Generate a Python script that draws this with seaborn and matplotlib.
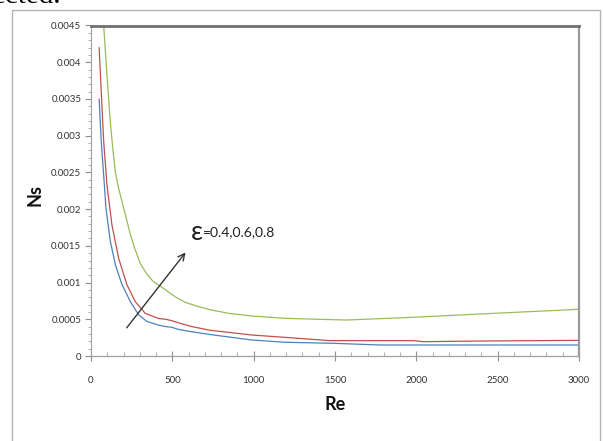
import matplotlib
matplotlib.use('Agg')
from matplotlib import pyplot as plt
from matplotlib.patches import Rectangle
from matplotlib.ticker import MultipleLocator, FuncFormatter
import pandas as pd
import seaborn as sns

# values (Re, Ns) for each epsilon
re_04 = [50, 63, 78, 92, 119, 150, 191, 242, 293, 344, 416, 460, 498, 540, 621, 733,
         988, 1192, 1489, 1776, 2400, 3000]
ns_04 = [0.0035, 0.00292, 0.00246, 0.00201, 0.00156, 0.00124, 0.00097, 0.00074, 0.00056,
         0.00047, 0.00042, 0.0004, 0.00039, 0.00036, 0.00033, 0.000292,
         0.000218, 0.000187, 0.000173, 0.00015, 0.00015, 0.00015]

re_06 = [50, 63, 78, 98, 129, 170, 221, 272, 334, 416, 460, 498, 540, 621, 733,
         988, 1192, 1469, 1981, 2043, 2391, 3000]
ns_06 = [0.0042, 0.0036, 0.00292, 0.00233, 0.00178, 0.00133, 0.00097, 0.00074, 0.00058,
         0.00051, 0.0005, 0.00048, 0.00045, 0.0004, 0.00035,
         0.000286, 0.000254, 0.000209, 0.000209, 0.000195, 0.000204, 0.000213]

re_08 = [50, 78, 98, 119, 135, 150, 170, 200, 245, 270, 303, 342, 380, 440, 495, 530, 580,
         650, 731, 850, 988, 1192, 1400, 1571, 1981, 2391, 3000]
ns_08 = [0.006, 0.0045, 0.00383, 0.00318, 0.0028, 0.0025, 0.00228, 0.00202, 0.00163,
         0.00146, 0.00126, 0.00112, 0.00102, 0.00093, 0.00084, 0.00079, 0.00073,
         0.00068, 0.00063, 0.00058, 0.000545, 0.000513, 0.0005, 0.00049, 0.000527,
         0.000572, 0.000636]

eps_labels = ['0.4', '0.6', '0.8']
colors = ['#4F81BD', '#C0504D', '#9BBB59']

df = pd.concat([
    pd.DataFrame({'Re': re_04, 'Ns': ns_04, 'eps': eps_labels[0]}),
    pd.DataFrame({'Re': re_06, 'Ns': ns_06, 'eps': eps_labels[1]}),
    pd.DataFrame({'Re': re_08, 'Ns': ns_08, 'eps': eps_labels[2]}),
])

sns.set_style('white')
plt.rcParams['font.family'] = ['Lato', 'DejaVu Sans']

fig = plt.figure(figsize=(6.03, 4.41), dpi=100)
ax = fig.add_axes([91/603, 1-356/441, 488/603, 330.5/441])

sns.lineplot(data=df, x='Re', y='Ns', hue='eps', palette=colors, estimator=None,
             sort=False, linewidth=0.9, legend=False, ax=ax)

ax.set_xlim(0, 3000)
ax.set_ylim(0, 0.0045)
ax.xaxis.set_major_locator(MultipleLocator(500))
ax.xaxis.set_minor_locator(MultipleLocator(100))
ax.yaxis.set_major_locator(MultipleLocator(0.0005))
ax.yaxis.set_minor_locator(MultipleLocator(0.0001))
ax.yaxis.set_major_formatter(FuncFormatter(lambda v, p: f'{v:g}' if v > 1e-9 else '0'))
ax.xaxis.set_major_formatter(FuncFormatter(lambda v, p: f'{v:g}'))

ax.tick_params(axis='y', which='major', direction='out', length=4, width=0.8, color='#909090',
               labelsize=7, labelcolor='#333333', pad=3, left=True)
ax.tick_params(axis='y', which='minor', direction='out', length=2.5, width=0.6, color='#a0a0a0', left=True)
ax.tick_params(axis='x', which='major', direction='inout', length=7, width=0.8, color='#909090',
               labelsize=7, labelcolor='#333333', pad=11, bottom=True)
ax.tick_params(axis='x', which='minor', direction='in', length=3, width=0.6, color='#a0a0a0', bottom=True)

for side, col, lw in [('top', '#707070', 2.0), ('right', '#999999', 1.6),
                      ('left', '#a0a0a0', 0.8), ('bottom', '#a0a0a0', 0.9)]:
    ax.spines[side].set_visible(True)
    ax.spines[side].set_color(col)
    ax.spines[side].set_linewidth(lw)

ax.set_xlabel('Re', fontsize=13, fontweight='bold', color='#111111')
ax.set_ylabel('Ns', fontsize=13, fontweight='bold', color='#111111')
ax.xaxis.set_label_coords(0.5, -0.148)
ax.xaxis.label.set_va('center')
ax.yaxis.set_label_coords(-0.115, 0.486)
ax.yaxis.label.set_va('center')

# arrow and epsilon note
ax.annotate('', xy=(592, 0.00144), xytext=(209, 0.000354),
            arrowprops=dict(arrowstyle='->', color='#333333', lw=1.0, mutation_scale=12))
eps_txt = ax.text(612, 0.00168, 'ε', fontsize=19, va='center', ha='left', color='#222222')
ax.annotate('=0.4,0.6,0.8', xy=(1.0, 0.28), xycoords=eps_txt, fontsize=10,
            va='bottom', ha='left', color='#222222')

# outer chart frame and clipped caption text from the page
fig.patches.append(Rectangle((12/603, -0.1), 588/603, 1.1 - 10/441, transform=fig.transFigure,
                             fill=False, ec='#b4b4b4', lw=1.0))
fig.text(-0.011, 1-3/441, 'ected.', family='Liberation Serif', fontsize=21, va='baseline',
         ha='left', color='black')

fig.savefig('out.png', dpi=100)
